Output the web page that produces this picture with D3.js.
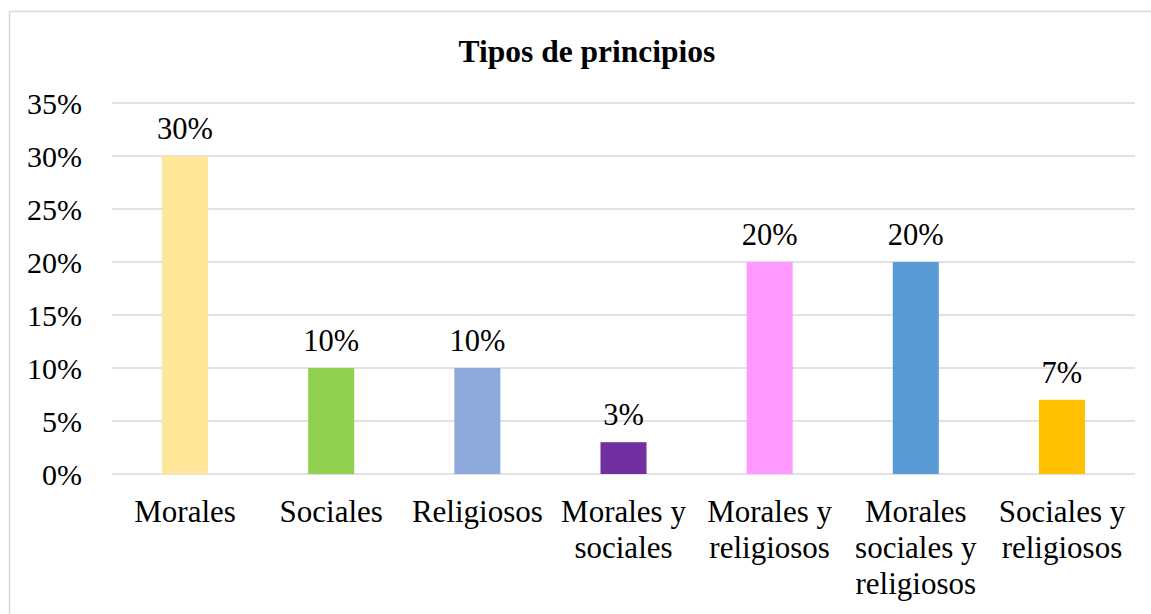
<!DOCTYPE html>
<html>
<head>
<meta charset="utf-8">
<script src="https://cdn.jsdelivr.net/npm/d3@7"></script>
<style>
  html, body { margin: 0; padding: 0; background: #fff; }
</style>
</head>
<body>
<div id="chart"></div>
<script>
// Chart values
const TITLE = 'Tipos de principios';
const categories = [
  'Morales', 'Sociales', 'Religiosos', 'Morales y\nsociales',
  'Morales y\nreligiosos', 'Morales\nsociales y\nreligiosos', 'Sociales y\nreligiosos',
];
const values = [30, 10, 10, 3, 20, 20, 7];
const barColors = ['#FFE699', '#92D050', '#8EA9DB', '#7030A0', '#FF99FF', '#5B9BD5', '#FFC000'];
const yTicks = [0, 5, 10, 15, 20, 25, 30, 35];

const W = 1151, H = 614;
const MARGIN = { top: 103, right: 16, bottom: 140, left: 112 };
const FONT = '"Liberation Serif", "Times New Roman", Times, "DejaVu Serif", serif';

const svg = d3.select('#chart').append('svg')
  .attr('width', W)
  .attr('height', H)
  .attr('font-family', FONT)
  .style('display', 'block');

// chart area border
svg.append('rect')
  .attr('x', 9.5).attr('y', 11.5)
  .attr('width', W + 10).attr('height', H + 10)
  .attr('fill', 'none')
  .attr('stroke', '#d9d9d9')
  .attr('stroke-width', 1.5);

svg.append('text')
  .attr('x', 587).attr('y', 62)
  .attr('text-anchor', 'middle')
  .attr('font-family', FONT)
  .attr('font-weight', 'bold')
  .attr('font-size', 31.5)
  .attr('fill', '#000')
  .text(TITLE);

const innerW = 1135 - MARGIN.left;
const innerH = 474 - MARGIN.top;

const x = d3.scaleBand()
  .domain(categories)
  .range([0, innerW])
  .paddingInner(0.685)
  .paddingOuter(0.3425);

const y = d3.scaleLinear()
  .domain([0, 35])
  .range([innerH, 0]);

const g = svg.append('g').attr('transform', `translate(${MARGIN.left}, ${MARGIN.top})`);

// Grid lines
g.append('g')
  .selectAll('line')
  .data(yTicks)
  .join('line')
  .attr('x1', 0).attr('x2', innerW)
  .attr('y1', d => y(d)).attr('y2', d => y(d))
  .attr('stroke', '#d9d9d9')
  .attr('stroke-width', 1.5);

// Y labels
g.append('g')
  .selectAll('text')
  .data(yTicks)
  .join('text')
  .attr('x', -30)
  .attr('y', d => y(d))
  .attr('dy', '0.35em')
  .attr('text-anchor', 'end')
  .attr('font-family', FONT)
  .attr('font-size', 30)
  .attr('fill', '#000')
  .text(d => `${d}%`);

// Bars
g.append('g')
  .selectAll('rect')
  .data(values)
  .join('rect')
  .attr('x', (d, i) => x(categories[i]))
  .attr('width', x.bandwidth())
  .attr('y', d => y(d))
  .attr('height', d => innerH - y(d))
  .attr('fill', (d, i) => barColors[i]);

// Value labels
g.append('g')
  .selectAll('text')
  .data(values)
  .join('text')
  .attr('x', (d, i) => x(categories[i]) + x.bandwidth() / 2)
  .attr('y', d => y(d) - 17)
  .attr('text-anchor', 'middle')
  .attr('font-family', FONT)
  .attr('font-size', 30.5)
  .attr('fill', '#000')
  .text(d => `${d}%`);

// Category labels (wrapped)
const catG = g.append('g')
  .selectAll('text')
  .data(categories)
  .join('text')
  .attr('text-anchor', 'middle')
  .attr('font-family', FONT)
  .attr('font-size', 31)
  .attr('fill', '#000')
  .attr('transform', d => `translate(${x(d) + x.bandwidth() / 2}, ${innerH + 48})`);

catG.selectAll('tspan')
  .data(d => d.split('\n'))
  .join('tspan')
  .attr('x', 0)
  .attr('y', (d, i) => i * 36)
  .text(d => d);
</script>
</body>
</html>
